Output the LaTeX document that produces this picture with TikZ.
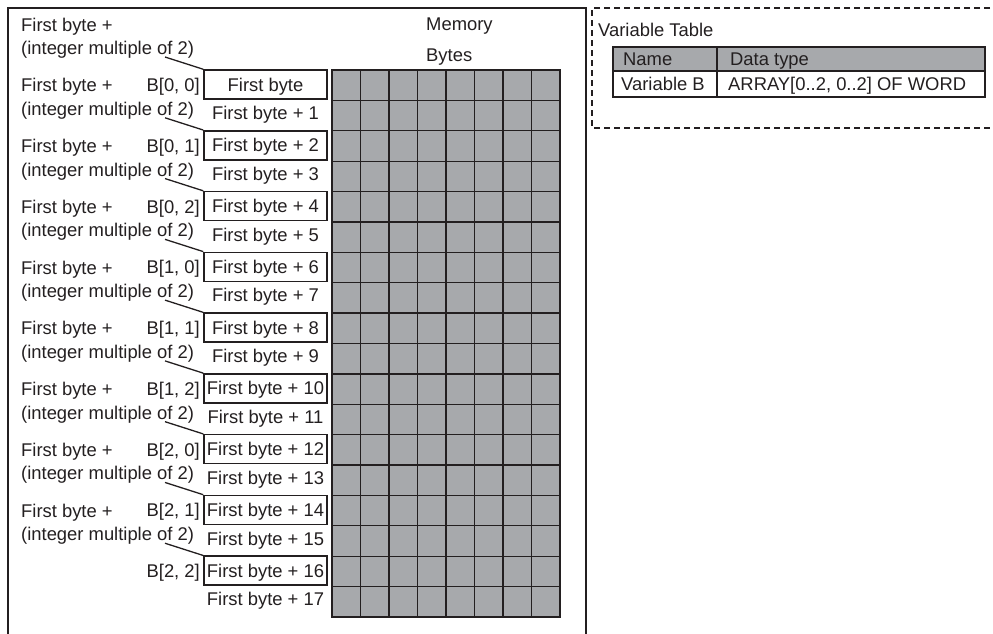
\documentclass[tikz,border=0pt]{standalone}
\usepackage{fontspec}
\setmainfont{Liberation Sans}
\definecolor{cellgray}{HTML}{A7A9AC}
\definecolor{ink}{HTML}{231F20}
\begin{document}
\begin{tikzpicture}[x=1pt,y=-1pt,
  font=\fontsize{18.4}{21}\selectfont,
  txt/.style={inner sep=0pt, text height=13.2pt, text depth=0pt, text=ink},
  bytebox/.style={draw=ink, line width=1.5pt, minimum width=123pt, minimum height=29pt, inner sep=0pt, text height=13.2pt, text depth=0pt, text=ink},
  gridline/.style={draw=ink, line width=1.3pt},
  frame/.style={draw=ink, line width=2pt},
  dashbox/.style={draw=ink, line width=1.5pt, dash pattern=on 6pt off 4pt},
  leader/.style={draw=ink, line width=1.3pt},
  tbl/.style={draw=ink, line width=2pt}]
\useasboundingbox (0,0) rectangle (993,633);
% outer frame
\draw[frame] (8,640) -- (8,8) -- (586,8) -- (586,640);
% memory grid
\fill[cellgray] (332,70) rectangle (560,617);
\foreach \i in {0,...,8} \draw[gridline] (332+28.5*\i,70) -- (332+28.5*\i,617);
\foreach \j in {0,...,18} \draw[gridline] (331.4,70+30.389*\j) -- (560.6,70+30.389*\j);
\node[txt, anchor=base west] (mem) at (426,30.5) {Memory};
\node[txt, anchor=base west] (bytes) at (426,61) {Bytes};
% bytes, boxes, labels
\foreach \k in {0,...,8} {
  \pgfmathsetmacro\rt{70+60.778*\k}
  \pgfmathtruncatemacro\ev{2*\k}
  \pgfmathtruncatemacro\od{2*\k+1}
  \pgfmathtruncatemacro\bi{int(\k/3)}
  \pgfmathtruncatemacro\bj{mod(\k,3)}
  \ifnum\k=0
    \node[bytebox] (b\k) at (265.5,\rt+14.5) {First byte};
  \else
    \node[bytebox] (b\k) at (265.5,\rt+14.5) {First byte + \ev};
  \fi
  \node[txt] (o\k) at (265.5,\rt+43) {First byte + \od};
  \node[txt, anchor=base east] (idx\k) at (200,\rt+21.5) {B[\bi, \bj]};
  \node[txt, anchor=base west] (fa\k) at (21,31+60.778*\k) {First byte +};
  \node[txt, anchor=base west] (fb\k) at (21,54.5+60.778*\k) {(integer multiple of 2)};
  \coordinate (c\k) at (165,\rt-13);
  \draw[leader] (c\k) -- (b\k.north west);
}
% variable table
\draw[dashbox] (1000,8) -- (592,8) -- (592,128) -- (1000,128);
\node[txt, anchor=west] (vt) at (598,30) {Variable Table};
\fill[cellgray] (613,47) rectangle (985,71);
\draw[tbl] (613,47) rectangle (985,97);
\draw[tbl] (613,71) -- (985,71);
\draw[tbl] (717,47) -- (717,97);
\node[txt, anchor=west] (hname) at (623,59) {Name};
\node[txt, anchor=west] (htype) at (730,59) {Data type};
\node[txt, anchor=west] (vname) at (621,84) {Variable B};
\node[txt, anchor=west] (vtype) at (728,84) {ARRAY[0..2, 0..2] OF WORD};
\end{tikzpicture}
\end{document}
